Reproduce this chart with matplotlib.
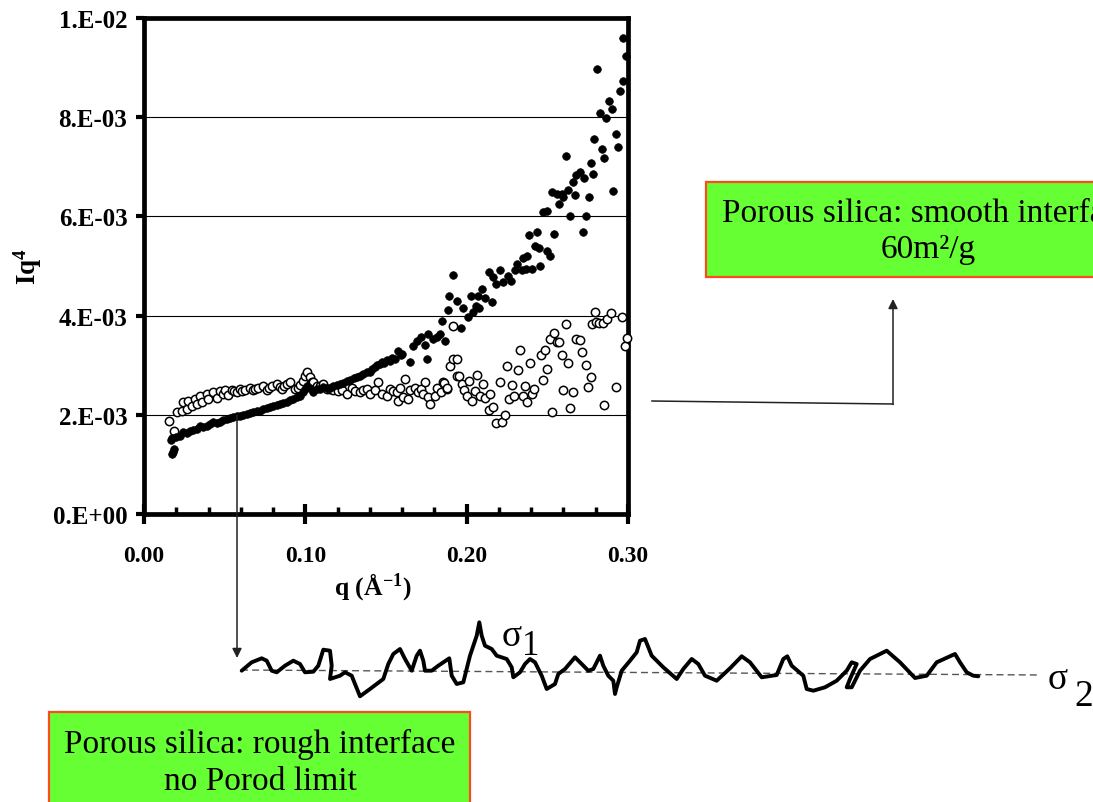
import numpy as np
import matplotlib
matplotlib.use("Agg")
import matplotlib.pyplot as plt
from matplotlib.patches import Rectangle

plt.rcParams['font.family'] = ['Liberation Serif', 'DejaVu Serif']
plt.rcParams['mathtext.fontset'] = 'custom'
plt.rcParams['mathtext.rm'] = 'Liberation Serif:bold'
plt.rcParams['mathtext.it'] = 'Liberation Serif:bold'
plt.rcParams['mathtext.bf'] = 'Liberation Serif:bold'

# rough interface sample (filled dots): q [1/A], Iq^4 [x1e-3]
rough_q = [0.0172, 0.0178, 0.0186, 0.0165, 0.0172, 0.0200, 0.0223, 0.0244, 0.0265, 0.0285,
           0.0306, 0.0327, 0.0347, 0.0368, 0.0389, 0.0410, 0.0430, 0.0450, 0.0471, 0.0492,
           0.0513, 0.0534, 0.0554, 0.0575, 0.0595, 0.0616, 0.0637, 0.0657, 0.0678, 0.0699,
           0.0720, 0.0740, 0.0760, 0.0780, 0.0800, 0.0822, 0.0843, 0.0864, 0.0885, 0.0905,
           0.0926, 0.0946, 0.0967, 0.0988, 0.1000, 0.1010, 0.1029, 0.1050, 0.1070, 0.1090,
           0.1112, 0.1133, 0.1153, 0.1174, 0.1195, 0.1215, 0.1236, 0.1257, 0.1278, 0.1300,
           0.1320, 0.1340, 0.1360, 0.1380, 0.1400, 0.1412, 0.1430, 0.1443, 0.1460, 0.1474,
           0.1490, 0.1505, 0.1525, 0.1540, 0.1556, 0.1577, 0.1590, 0.1600, 0.1650, 0.1670,
           0.1690, 0.1720, 0.1742, 0.1757, 0.1763, 0.1794, 0.1814, 0.1835, 0.1850, 0.1866,
           0.1887, 0.1893, 0.1914, 0.1938, 0.1964, 0.1980, 0.2010, 0.2025, 0.2042, 0.2060,
           0.2070, 0.2079, 0.2093, 0.2114, 0.2140, 0.2155, 0.2166, 0.2183, 0.2207, 0.2228,
           0.2258, 0.2273, 0.2300, 0.2310, 0.2340, 0.2348, 0.2368, 0.2377, 0.2389, 0.2404,
           0.2424, 0.2434, 0.2451, 0.2455, 0.2476, 0.2497, 0.2500, 0.2517, 0.2528, 0.2544,
           0.2558, 0.2570, 0.2590, 0.2600, 0.2614, 0.2630, 0.2640, 0.2657, 0.2670, 0.2680,
           0.2700, 0.2718, 0.2728, 0.2740, 0.2760, 0.2769, 0.2786, 0.2790, 0.2810, 0.2827,
           0.2837, 0.2854, 0.2864, 0.2880, 0.2900, 0.2905, 0.2924, 0.2940, 0.2950, 0.2967,
           0.2972, 0.2986]
rough_i = [1.21, 1.24, 1.31, 1.50, 1.53, 1.55, 1.58, 1.65, 1.63, 1.68,
           1.70, 1.71, 1.78, 1.76, 1.78, 1.82, 1.85, 1.84, 1.86, 1.90,
           1.92, 1.93, 1.95, 1.98, 1.97, 2.00, 2.02, 2.04, 2.05, 2.08,
           2.08, 2.11, 2.13, 2.16, 2.18, 2.20, 2.22, 2.24, 2.26, 2.29,
           2.32, 2.35, 2.38, 2.45, 2.52, 2.59, 2.55, 2.45, 2.52, 2.52,
           2.57, 2.55, 2.55, 2.58, 2.60, 2.62, 2.64, 2.69, 2.70, 2.74,
           2.76, 2.79, 2.83, 2.87, 2.86, 2.92, 2.96, 3.00, 3.02, 3.06,
           3.04, 3.11, 3.09, 3.15, 3.12, 3.29, 3.20, 3.23, 3.06, 3.39,
           3.49, 3.56, 3.40, 3.12, 3.63, 3.53, 3.56, 3.63, 3.90, 3.49,
           4.12, 4.40, 4.81, 4.30, 3.74, 4.15, 3.97, 4.40, 4.07, 4.19,
           4.40, 4.15, 4.54, 4.35, 4.87, 4.28, 4.77, 4.64, 4.91, 4.67,
           4.80, 4.70, 4.91, 5.04, 4.91, 5.17, 4.93, 5.21, 5.63, 4.93,
           5.41, 5.68, 5.37, 5.01, 6.08, 6.10, 5.31, 5.21, 6.49, 5.65,
           6.45, 6.25, 6.45, 6.40, 7.22, 6.54, 6.01, 6.69, 6.44, 6.83,
           6.90, 5.68, 6.77, 6.01, 6.40, 7.08, 6.85, 7.56, 8.97, 8.08,
           7.36, 7.17, 7.98, 8.33, 8.17, 6.52, 7.66, 7.39, 8.53, 8.72,
           9.60, 9.23]

# smooth interface sample (open circles)
smooth_q = [0.0157, 0.0186, 0.0203, 0.0234, 0.0244, 0.0265, 0.0275, 0.0296, 0.0316, 0.0330,
            0.0347, 0.0357, 0.0388, 0.0399, 0.0430, 0.0450, 0.0470, 0.0490, 0.0502, 0.0522,
            0.0543, 0.0560, 0.0575, 0.0595, 0.0610, 0.0626, 0.0657, 0.0678, 0.0690, 0.0709,
            0.0740, 0.0760, 0.0775, 0.0792, 0.0823, 0.0840, 0.0854, 0.0870, 0.0885, 0.0905,
            0.0936, 0.0957, 0.0970, 0.0988, 0.1000, 0.1009, 0.1029, 0.1040, 0.1050, 0.1070,
            0.1090, 0.1112, 0.1133, 0.1150, 0.1174, 0.1200, 0.1230, 0.1257, 0.1288, 0.1310,
            0.1340, 0.1360, 0.1380, 0.1400, 0.1432, 0.1453, 0.1474, 0.1505, 0.1525, 0.1545,
            0.1566, 0.1577, 0.1587, 0.1608, 0.1618, 0.1639, 0.1650, 0.1680, 0.1700, 0.1720,
            0.1732, 0.1742, 0.1763, 0.1773, 0.1804, 0.1815, 0.1840, 0.1856, 0.1860, 0.1876,
            0.1880, 0.1897, 0.1914, 0.1918, 0.1938, 0.1940, 0.1955, 0.1970, 0.1984, 0.2000,
            0.2017, 0.2032, 0.2052, 0.2066, 0.2083, 0.2104, 0.2114, 0.2141, 0.2145, 0.2166,
            0.2182, 0.2207, 0.2217, 0.2238, 0.2248, 0.2265, 0.2280, 0.2294, 0.2320, 0.2331,
            0.2352, 0.2362, 0.2377, 0.2393, 0.2404, 0.2418, 0.2461, 0.2476, 0.2488, 0.2500,
            0.2517, 0.2532, 0.2544, 0.2558, 0.2575, 0.2590, 0.2600, 0.2616, 0.2627, 0.2640,
            0.2657, 0.2680, 0.2700, 0.2713, 0.2738, 0.2755, 0.2770, 0.2776, 0.2798, 0.2800,
            0.2823, 0.2843, 0.2850, 0.2868, 0.2893, 0.2924, 0.2961, 0.2982, 0.2996]
smooth_i = [1.88, 1.68, 2.05, 2.08, 2.25, 2.12, 2.28, 2.18, 2.32, 2.22,
            2.38, 2.25, 2.42, 2.32, 2.45, 2.33, 2.47, 2.42, 2.49, 2.40,
            2.51, 2.47, 2.45, 2.52, 2.47, 2.49, 2.55, 2.49, 2.53, 2.55,
            2.59, 2.49, 2.55, 2.59, 2.62, 2.56, 2.52, 2.58, 2.62, 2.66,
            2.52, 2.55, 2.60, 2.69, 2.78, 2.87, 2.76, 2.66, 2.66, 2.59,
            2.59, 2.62, 2.52, 2.52, 2.49, 2.47, 2.50, 2.42, 2.55, 2.47,
            2.45, 2.50, 2.52, 2.42, 2.49, 2.66, 2.42, 2.38, 2.52, 2.47,
            2.45, 2.28, 2.55, 2.35, 2.72, 2.32, 2.49, 2.55, 2.45, 2.53,
            2.42, 2.66, 2.35, 2.22, 2.38, 2.55, 2.45, 2.66, 2.64, 2.52,
            2.55, 2.99, 3.80, 3.12, 2.79, 3.12, 2.79, 2.62, 2.49, 2.38,
            2.69, 2.28, 2.47, 2.81, 2.38, 2.62, 2.33, 2.10, 2.42, 2.16,
            1.83, 2.66, 1.86, 2.00, 2.99, 2.32, 2.61, 2.38, 2.91, 3.31,
            2.38, 2.59, 2.26, 3.04, 2.41, 2.53, 3.21, 2.71, 3.31, 2.92,
            3.53, 2.05, 3.64, 3.47, 3.46, 3.21, 2.50, 3.84, 3.04, 2.13,
            2.45, 3.53, 3.51, 3.26, 3.00, 2.57, 2.76, 3.84, 4.08, 3.88,
            3.85, 3.85, 2.20, 3.93, 4.05, 2.57, 3.97, 3.38, 3.54]

y_ticks = [0.0, 0.002, 0.004, 0.006, 0.008, 0.010]
y_ticklabels = ["0.E+00", "2.E-03", "4.E-03", "6.E-03", "8.E-03", "1.E-02"]
x_ticks = [0.0, 0.1, 0.2, 0.3]
x_ticklabels = ["0.00", "0.10", "0.20", "0.30"]

# hand-drawn interface sketch (page pixel coords)
sketch_x = [241.7, 251.7, 261.7, 266.7, 271.7, 276.7, 285, 293.3, 300, 305, 313.3, 318.3, 323.3,
            330, 331.7, 330, 340, 345, 351.7, 355, 360, 370, 383.3, 388.3, 393.3, 400, 405,
            411.7, 416.7, 420, 423.3, 425, 431.7, 438.3, 449.3, 451.7, 456.7, 463.3, 470, 476.7,
            479.3, 481.7, 485, 491.7, 496.7, 506.7, 511.7, 513.3, 520, 525, 530, 535, 541.7,
            546.7, 555, 558.3, 565, 575, 581.7, 588.3, 593.3, 600, 603.3, 608.3, 613.3, 615,
            616.7, 621.7, 630, 636.7, 640, 645, 651.7, 663.3, 676.7, 683.3, 691.7, 698.3, 705,
            716.7, 730, 741.7, 750, 761.7, 776.7, 783.3, 787.3, 791.7, 803.3, 806.7, 813.3, 825,
            836.7, 846.7, 851.7, 856.7, 850, 846.7, 851.7, 860, 870, 886.7, 900, 915, 926.7,
            936.7, 955, 960, 966.7, 973.3, 978.3]
sketch_y = [671.7, 663.3, 659.3, 661.7, 671.7, 673.3, 666.7, 661.7, 665, 673.3, 672.7, 666.7, 650.7,
            651.7, 666.7, 680, 676.7, 673.3, 676.7, 685, 697.3, 690, 680, 665, 655, 650, 660,
            671.7, 656.7, 651.7, 661.7, 671.7, 671.7, 666.7, 659.3, 676.7, 685, 683.3, 656.7, 636.7,
            623.3, 636.7, 646.7, 650, 656.7, 660, 668.3, 678.3, 673.3, 665, 660, 663.3, 676.7,
            690, 685, 675, 670, 658.3, 665, 671.7, 670, 656.7, 666.7, 676.7, 681.7, 695,
            688.3, 671.7, 661.7, 653.3, 641.7, 640, 656.7, 668.3, 680, 670, 660, 665, 676.7,
            681.7, 669.3, 657.3, 663.3, 678.3, 676, 660, 657.3, 666.7, 676.7, 690, 691.7, 688.3,
            681.7, 671.7, 663.3, 665, 680, 688.3, 688.3, 671.7, 660, 651.7, 663.3, 679, 676.7,
            663.3, 655, 663.3, 673.3, 676.7, 677.3]

W, H = 1093, 803
fig = plt.figure(figsize=(W / 100, H / 100), dpi=100)

ax = fig.add_axes([144 / W, 1 - 515 / H, (628 - 144) / W, (515 - 19) / H], zorder=1)
ax.plot(np.array(smooth_q), np.array(smooth_i) * 1e-3, 'o', ms=6.0, mfc='white', mec='black',
        mew=1.1, clip_on=False, zorder=3)
ax.plot(np.array(rough_q), np.array(rough_i) * 1e-3, 'o', ms=5.5, mfc='black', mec='black',
        mew=0.5, clip_on=False, zorder=4)

ax.set_xlim(0, 0.3)
ax.set_ylim(0, 0.01)
ax.set_yticks(y_ticks)
ax.set_yticklabels(y_ticklabels, fontsize=18, fontweight='bold')
ax.set_xticks(x_ticks)
ax.set_xticklabels(x_ticklabels, fontsize=17, fontweight='bold')
ax.set_xticks(np.arange(0.02, 0.3, 0.02), minor=True)
ax.tick_params(axis='x', which='major', direction='inout', length=14, width=3, pad=15)
ax.tick_params(axis='x', which='minor', direction='in', length=5, width=2.5)
ax.tick_params(axis='y', which='major', direction='out', length=6, width=3, pad=6)
for s in ax.spines.values():
    s.set_linewidth(3.4)
ax.grid(axis='y', color='black', lw=0.8)
ax.set_axisbelow(True)
ax.set_xlabel(r'q (Å$^{-1}$)', fontsize=18.5, fontweight='bold')
ax.xaxis.set_label_coords(0.472, -0.113)
ax.set_ylabel(r'Iq$^{4}$', fontsize=19.5, fontweight='bold')
ax.yaxis.set_label_coords(-0.207, 0.5)

# overlay in page pixels for annotations
ov = fig.add_axes([0, 0, 1, 1], zorder=2)
ov.set_xlim(0, W)
ov.set_ylim(H, 0)
ov.axis('off')
ov.patch.set_alpha(0)

green = '#66ff33'
edge = '#ff4a1c'
ov.add_patch(Rectangle((706, 183), 460, 95, fc=green, ec=edge, lw=1.6, clip_on=False))
ov.text(928, 232, "Porous silica: smooth interface\n60m²/g", ha='center', va='center',
        fontsize=24, linespacing=1.25, clip_on=False)
ov.add_patch(Rectangle((49, 713), 421, 110, fc=green, ec=edge, lw=1.6, clip_on=False))
ov.text(260, 763, "Porous silica: rough interface\nno Porod limit", ha='center', va='center',
        fontsize=24, linespacing=1.3)

arrow_kw = dict(arrowstyle='-|>', color='#222222', lw=1.1, mutation_scale=14, shrinkA=0, shrinkB=0)
ov.plot([652, 893], [402, 405], color='#222222', lw=1.1)
ov.annotate('', xy=(893, 300), xytext=(893, 405.5), arrowprops=arrow_kw)
ov.annotate('', xy=(237, 659), xytext=(237, 416), arrowprops=arrow_kw)

ov.plot([241, 1040], [671, 676], color='#555555', lw=1.0, ls=(0, (5, 3)))
ov.plot(sketch_x, sketch_y, color='black', lw=2.8, solid_joinstyle='round', solid_capstyle='round')
ov.text(502, 646, "σ", fontsize=27, ha='left', va='baseline')
ov.text(522, 655, "1", fontsize=25, ha='left', va='baseline')
ov.text(1048, 689, "σ", fontsize=27, ha='left', va='baseline')
ov.text(1074, 706, "2", fontsize=27, ha='left', va='baseline')

fig.savefig('out.png', dpi=100)
